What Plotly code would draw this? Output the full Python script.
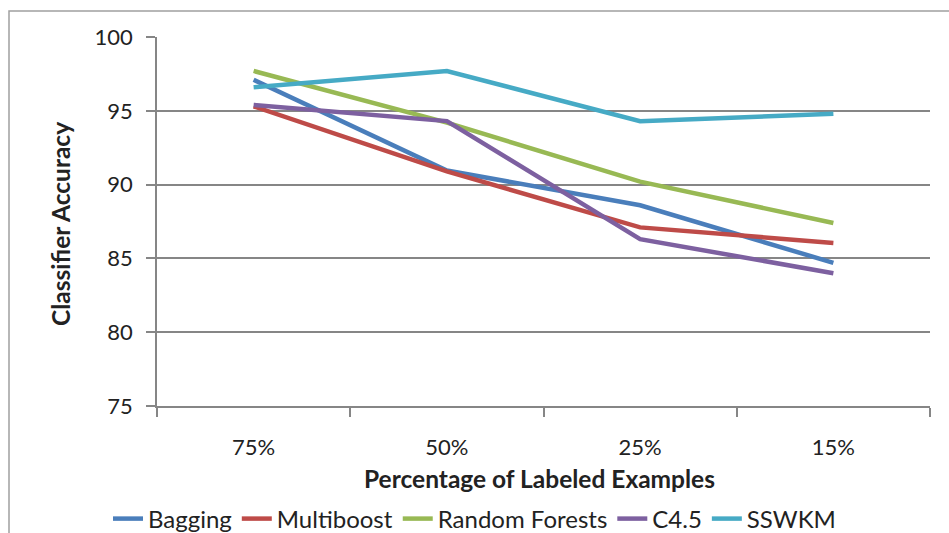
import plotly.graph_objects as go

categories = ["75%", "50%", "25%", "15%"]
bagging = [97.1, 90.95, 88.6, 84.7]
multiboost = [95.3, 90.9, 87.1, 86.05]
random_forests = [97.7, 94.2, 90.2, 87.4]
c45 = [95.4, 94.3, 86.3, 84.0]
sswkm = [96.6, 97.7, 94.3, 94.8]

series = [
    ("Bagging", bagging, "#4A7EBB"),
    ("Multiboost", multiboost, "#BE4B48"),
    ("Random Forests", random_forests, "#98B954"),
    ("C4.5", c45, "#7D60A0"),
    ("SSWKM", sswkm, "#46AAC5"),
]

FONT = "Lato, Carlito, 'Liberation Sans', sans-serif"
FS = 22

fig = go.Figure()
for name, vals, color in series:
    fig.add_trace(go.Scatter(x=categories, y=vals, mode="lines", name=name,
                             line=dict(color=color, width=4.5)))

L, R, T, B = 157, 19, 37, 127
PH = 533 - T - B
PW = 949 - L - R

fig.update_layout(
    width=949, height=533,
    margin=dict(l=L, r=R, t=T, b=B),
    paper_bgcolor="white", plot_bgcolor="white",
    font=dict(family=FONT, size=FS, color="#222222"),
    showlegend=True,
    legend=dict(orientation="h", xref="container", x=0.5, xanchor="center",
                yref="container", y=1 - 519 / 533, yanchor="middle",
                font=dict(size=24), itemwidth=30, tracegroupgap=0,
                bgcolor="rgba(0,0,0,0)"),
    xaxis=dict(
        type="category", tickson="boundaries", ticks="outside", ticklen=9,
        tickcolor="#868686", tickwidth=1.5,
        showline=True, linecolor="#868686", linewidth=1.5,
        showgrid=False, ticklabelstandoff=21,
        range=[-0.5, 3.5], automargin=False,
    ),
    yaxis=dict(
        range=[75, 100], dtick=5, ticks="outside", ticklen=9,
        tickcolor="#868686", tickwidth=1.5,
        showline=True, linecolor="#868686", linewidth=1.5,
        showgrid=True, gridcolor="#868686", gridwidth=1.5,
        zeroline=False, ticklabelstandoff=9, automargin=False,
    ),
    annotations=[
        dict(text="<b>Percentage of Labeled Examples</b>", xref="paper", yref="paper",
             x=(539 - L) / PW, y=(406 - 478) / PH, xanchor="center", yanchor="middle",
             showarrow=False, font=dict(size=24.5)),
        dict(text="<b>Classifier Accuracy</b>", xref="paper", yref="paper",
             x=(60 - L) / PW, y=(406 - 224) / PH, xanchor="center", yanchor="middle",
             textangle=-90, showarrow=False, font=dict(size=24.5)),
    ],
    shapes=[dict(type="rect", xref="paper", yref="paper",
                 x0=(9 - L) / PW, x1=1.05, y0=-0.5, y1=1 + (T - 11) / PH,
                 line=dict(color="#A0A0A0", width=1.5), fillcolor="rgba(0,0,0,0)",
                 layer="below")],
)

fig.write_html("out.html", config={"displayModeBar": False},
               post_script="document.body.style.margin='0';document.body.style.overflow='hidden';")
